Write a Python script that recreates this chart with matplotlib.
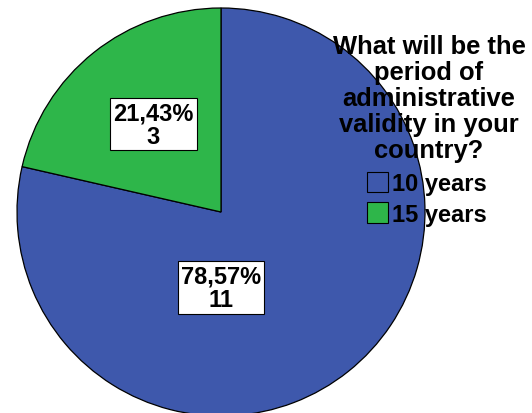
import matplotlib
matplotlib.use("Agg")
import matplotlib.pyplot as plt
from matplotlib.patches import Patch
import numpy as np

plt.rcParams['font.family'] = ['Liberation Sans', 'DejaVu Sans']
plt.rcParams['font.weight'] = 'bold'

categories = ['10 years', '15 years']
counts = [11, 3]
colors = ['#3E58AC', '#2EB64A']
question = 'What will be the\nperiod of\nadministrative\nvalidity in your\ncountry?'

fig = plt.figure(figsize=(5.32, 4.14), dpi=100)
W, H = 532, 414
cx, cy, r = 221, 414 - 213, 204  # pie centre / radius in pixels
ax = fig.add_axes([(cx - r) / W, (cy - r) / H, 2 * r / W, 2 * r / H])

wedges, _ = ax.pie(counts, colors=colors, startangle=90, counterclock=False,
                   radius=1.0, wedgeprops=dict(edgecolor='black', linewidth=0.9))
ax.set_xlim(-1, 1)
ax.set_ylim(-1, 1)
ax.set_aspect('auto')
ax.axis('off')

total = sum(counts)
# label spots: green sits on its wedge's mid angle, blue below the centre
spots = []
for w in wedges:
    mid = np.deg2rad((w.theta1 + w.theta2) / 2)
    spots.append((0.55 * np.cos(mid) + 0.012, 0.55 * np.sin(mid)))
spots[0] = (0.0, -0.37)

for n, (x, y) in zip(counts, spots):
    pct = f"{100 * n / total:.2f}%".replace('.', ',')
    ax.text(x, y, f"{pct}\n{n}", ha='center', va='center', fontsize=17,
            fontweight='bold', linespacing=1.03,
            bbox=dict(boxstyle='square,pad=0.12', facecolor='white',
                      edgecolor='black', linewidth=0.8))

fig.text(429 / W, 1 - 35 / H, question, ha='center', va='top',
         fontsize=18.4, fontweight='bold', multialignment='center',
         linespacing=1.1)

handles = [Patch(facecolor=c, edgecolor='black', linewidth=0.8) for c in colors]
fig.legend(handles, categories, loc='upper left',
           bbox_to_anchor=(362 / W, 1 - 168 / H), frameon=False,
           fontsize=17, handlelength=0.89, handleheight=0.97,
           handletextpad=0.17, labelspacing=0.3, borderaxespad=0, borderpad=0.2)

fig.savefig('out.png', dpi=100)
